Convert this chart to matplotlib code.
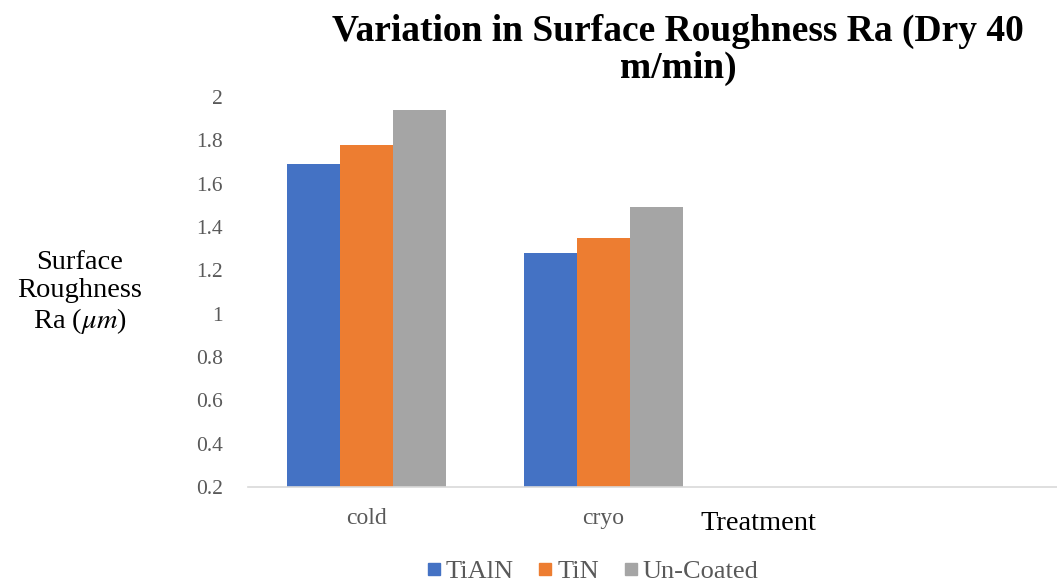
import matplotlib
matplotlib.use("Agg")
import matplotlib.pyplot as plt
from matplotlib.lines import Line2D
import numpy as np

plt.rcParams['font.family'] = ['Liberation Serif', 'DejaVu Serif']
plt.rcParams['mathtext.fontset'] = 'stix'

categories = ["cold", "cryo"]
series_names = ["TiAlN", "TiN", "Un-Coated"]
tialn = [1.69, 1.28]
tin = [1.78, 1.35]
uncoated = [1.94, 1.49]
yticks = [0.2, 0.4, 0.6, 0.8, 1.0, 1.2, 1.4, 1.6, 1.8, 2.0]
ytick_labels = ["0.2", "0.4", "0.6", "0.8", "1", "1.2", "1.4", "1.6", "1.8", "2"]
colors = ["#4472C4", "#ED7D31", "#A5A5A5"]

W, H = 1057, 584
fig = plt.figure(figsize=(W / 100, H / 100), dpi=100)
left = 248 / W
bottom = 1 - 487 / H
top = 1 - 97 / H
ax = fig.add_axes([left, bottom, 1 - left, top - bottom])

x = np.arange(len(categories))
bw = 0.224
for i, (vals, c) in enumerate(zip([tialn, tin, uncoated], colors)):
    ax.bar(x + (i - 1) * bw, [v - 0.2 for v in vals], bw, bottom=0.2, color=c, label=series_names[i])

ax.set_xlim(-0.5, (W - 248) / 237 - 0.5)
ax.set_ylim(0.2, 2.0)
ax.set_yticks(yticks)
ax.set_yticklabels(ytick_labels)
ax.set_xticks(x)
ax.set_xticklabels(categories)
for s in ["top", "right", "left"]:
    ax.spines[s].set_visible(False)
ax.spines["bottom"].set_color("#D9D9D9")
ax.spines["bottom"].set_linewidth(1.2)
ax.tick_params(axis='y', length=0, pad=18, labelsize=15.5, labelcolor="#595959")
ax.tick_params(axis='x', length=0, pad=15, labelsize=17, labelcolor="#595959")

fig.text(678 / W, 1 - 50 / H, "Variation in Surface Roughness Ra (Dry 40\nm/min)",
         ha='center', va='center', fontsize=27, fontweight='bold', linespacing=1.05)
fig.text(80 / W, 1 - 293 / H, "Surface\nRoughness\nRa ($\\mu m$)", ha='center', va='center',
         fontsize=20.5, linespacing=1.15)
fig.text(758 / W, 1 - 524 / H, "Treatment", ha='center', va='center', fontsize=20.5)

handles = [Line2D([0], [0], marker='s', linestyle='none', markersize=8,
                  markerfacecolor=c, markeredgecolor=c) for c in colors]
leg = fig.legend(handles, series_names, loc='center', bbox_to_anchor=(592 / W, 1 - 571 / H),
                 ncol=3, frameon=False, fontsize=19, handletextpad=0.15, columnspacing=0.9,
                 handlelength=0.6)
for t in leg.get_texts():
    t.set_color("#595959")

fig.savefig("out.png", dpi=100)
